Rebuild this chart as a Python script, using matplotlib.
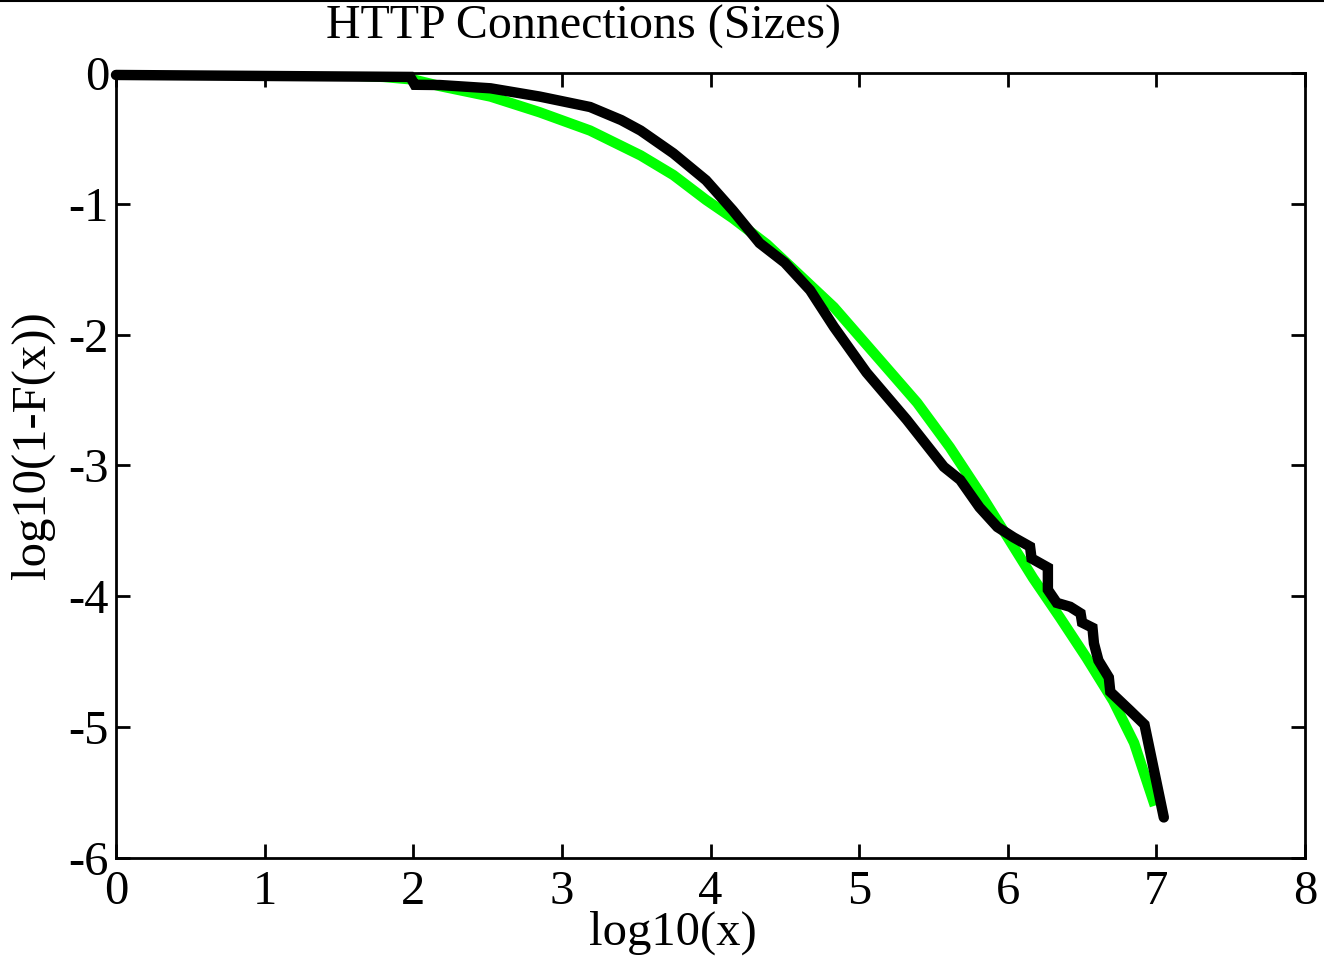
import matplotlib
matplotlib.use("Agg")
import matplotlib.pyplot as plt
from matplotlib.lines import Line2D

plt.rcParams['font.family'] = ['Liberation Serif', 'DejaVu Serif']

# ---- fitted distribution (green) ----
green_x = [0, 0.5, 1.0, 1.5, 1.8, 2.0, 2.18, 2.52, 2.85, 3.19, 3.53, 3.75, 3.97,
           4.15, 4.38, 4.83, 5.16, 5.39, 5.61, 5.83, 6.00, 6.17, 6.35, 6.53,
           6.71, 6.85, 6.99]
green_y = [0.0, 0.0, -0.005, -0.015, -0.03, -0.05, -0.10, -0.18, -0.30, -0.44,
           -0.63, -0.78, -0.97, -1.11, -1.31, -1.79, -2.22, -2.52, -2.86, -3.24,
           -3.55, -3.86, -4.16, -4.47, -4.80, -5.12, -5.60]

# ---- empirical data (black) ----
black_x = [0, 1.98, 2.0, 2.01, 2.18, 2.52, 2.85, 3.19, 3.40, 3.53, 3.75, 3.97,
           4.15, 4.33, 4.50, 4.67, 4.83, 5.05, 5.32, 5.57, 5.68, 5.81, 5.93,
           6.04, 6.15, 6.16, 6.27, 6.27, 6.33, 6.42, 6.49, 6.50, 6.57, 6.58,
           6.61, 6.68, 6.69, 6.82, 6.92, 7.05]
black_y = [-0.015, -0.03, -0.07, -0.09, -0.092, -0.117, -0.18, -0.26, -0.36,
           -0.44, -0.614, -0.82, -1.05, -1.30, -1.45, -1.66, -1.94, -2.29, -2.65,
           -3.01, -3.11, -3.32, -3.47, -3.55, -3.62, -3.71, -3.78, -3.95, -4.05,
           -4.08, -4.13, -4.20, -4.24, -4.36, -4.49, -4.62, -4.73, -4.87, -4.98,
           -5.69]

x_ticks = [0, 1, 2, 3, 4, 5, 6, 7, 8]
y_ticks = [0, -1, -2, -3, -4, -5, -6]

fig = plt.figure(figsize=(13.24, 9.57), dpi=100)
ax = fig.add_axes([116 / 1324, 1 - 858 / 957, (1305 - 116) / 1324, (858 - 73) / 957])

ax.plot(green_x, green_y, color='#00ff00', lw=7.5, solid_capstyle='butt',
        solid_joinstyle='round', zorder=2)
ax.plot(black_x, black_y, color='black', lw=7.5, solid_capstyle='round',
        solid_joinstyle='miter', zorder=3, clip_on=False)

ax.set_xlim(0, 8)
ax.set_ylim(-6, 0)
ax.set_xticks(x_ticks)
ax.set_yticks(y_ticks)
ax.set_xticklabels([str(v) for v in x_ticks])
ax.set_yticklabels([str(v) for v in y_ticks])
ax.tick_params(direction='in', length=10, width=2, labelsize=35,
               top=True, right=True)
ax.tick_params(axis='x', pad=9)
ax.tick_params(axis='y', pad=5)
for s in ax.spines.values():
    s.set_linewidth(2)

fig.text(583 / 1324, 1 - 27 / 957, 'HTTP Connections (Sizes)', fontsize=34.5,
         ha='center', va='center')
fig.text(673 / 1324, 1 - 933 / 957, 'log10(x)', fontsize=35,
         ha='center', va='center')
fig.text(33 / 1324, 1 - 445 / 957, 'log10(1-F(x))', fontsize=35,
         ha='center', va='center', rotation=90)

# thin rule across the very top
fig.add_artist(Line2D([0, 1], [1 - 1 / 957, 1 - 1 / 957], color='black', lw=1.5,
                      transform=fig.transFigure))

fig.savefig('out.png', dpi=100)
plt.close(fig)
